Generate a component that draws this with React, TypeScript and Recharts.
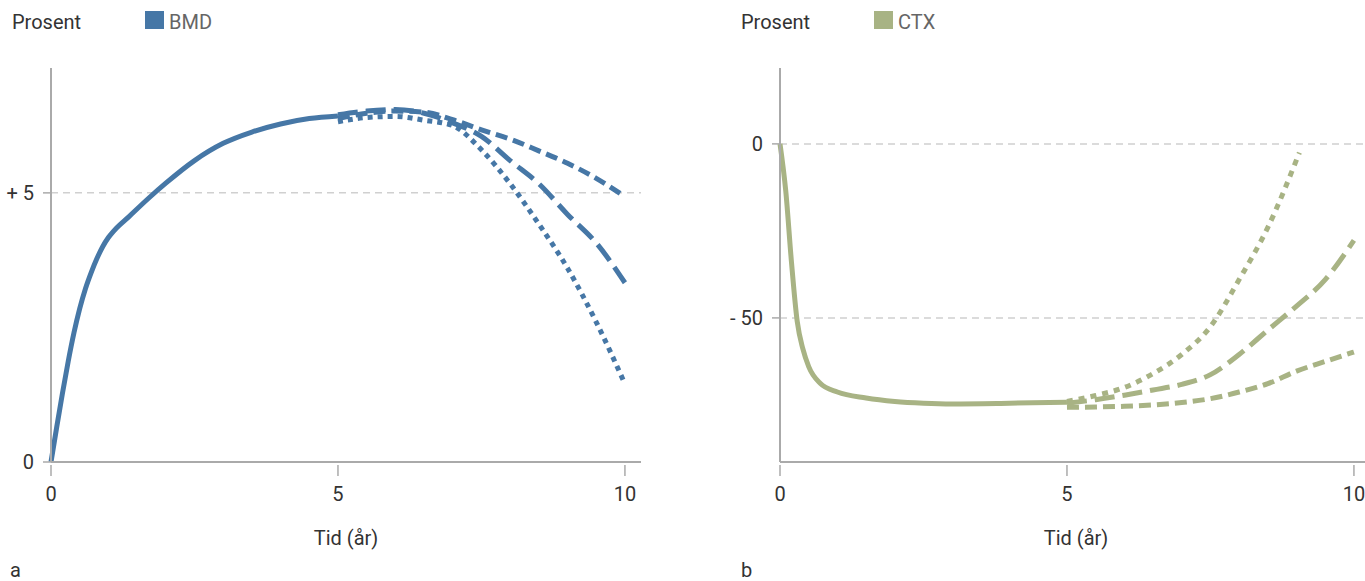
import React from 'react';
import { CartesianGrid, Line, LineChart, XAxis, YAxis } from 'recharts';

// --- BMD (left panel) ---
const bmdYears = [0, 0.1, 0.2, 0.3, 0.4, 0.5, 0.6, 0.7, 0.8, 0.9, 1.0, 1.1, 1.35, 1.7, 2, 2.5, 3, 3.5, 4, 4.5, 5];
const bmdValues = [0, 0.65, 1.28, 1.87, 2.4, 2.85, 3.22, 3.52, 3.78, 4.0, 4.17, 4.3, 4.55, 4.9, 5.18, 5.6, 5.92, 6.13, 6.28, 6.38, 6.43];

const projYears = [5, 5.5, 6, 6.5, 7, 7.5, 8, 8.5, 9, 9.5, 10];
const bmdShortDash = [6.38, 6.48, 6.52, 6.5, 6.36, 6.17, 6.0, 5.78, 5.55, 5.27, 4.93];
const bmdLongDash = [6.45, 6.52, 6.55, 6.48, 6.3, 6.05, 5.6, 5.17, 4.6, 4.07, 3.33];
const bmdDotted = [6.32, 6.4, 6.42, 6.35, 6.25, 5.8, 5.17, 4.42, 3.6, 2.6, 1.45];

// --- CTX (right panel) ---
const ctxYears = [0, 0.1, 0.2, 0.3, 0.4, 0.5, 0.7, 1, 1.5, 2, 2.5, 3, 4, 5];
const ctxValues = [0, -13.5, -34, -51, -59, -64, -68.8, -71.3, -73, -74, -74.5, -74.7, -74.5, -74.2];

const ctxDottedYears = [5, 5.5, 6, 6.5, 7, 7.5, 8, 8.5, 9.05];
const ctxDotted = [-74, -72.3, -70, -66, -60.5, -52.5, -39, -24, -2.5];
const ctxLongDash = [-74.5, -73.5, -72.2, -70.7, -69.1, -66.3, -60.5, -53.5, -46.6, -39, -27.7];
const ctxShortDash = [-75.7, -75.6, -75.4, -75, -74.3, -73.2, -71.3, -68.9, -65.3, -62.5, -59.8];

const xTicks = [0, 5, 10];
const bmdTicks = [0, 5];
const ctxTicks = [-50, 0];
const bmdTickLabels: Record<number, string> = { 0: '0', 5: '+ 5' };
const ctxTickLabels: Record<number, string> = { 0: '0', [-50]: '- 50' };

const zip = (xs: number[], ys: number[]) => xs.map((year, i) => ({ year, value: ys[i] }));

const FONT = "Roboto, 'DejaVu Sans', sans-serif";
const BLUE = '#4677a6';
const GREEN = '#a8b384';
const AXIS = '#aaaaaa';

const XTick = (props: any) => {
  const { x, y, payload } = props;
  return (
    <g>
      <line x1={x} x2={x} y1={y + 3} y2={y + 14} stroke={AXIS} strokeWidth={1.5} />
      <text x={x} y={y + 39} textAnchor="middle" fill="#333" fontSize={20} fontFamily={FONT}>
        {payload.value}
      </text>
    </g>
  );
};

type Series = { data: { year: number; value: number }[]; dash?: string };

const Panel = ({
  color,
  domain,
  ticks,
  labels,
  series,
}: {
  color: string;
  domain: [number, number];
  ticks: number[];
  labels: Record<number, string>;
  series: Series[];
}) => (
  <LineChart width={660} height={581} margin={{ top: 68, right: 19, left: 0, bottom: 0 }}>
    <CartesianGrid vertical={false} syncWithTicks stroke="#d0d0d0" strokeWidth={1.5} strokeDasharray="7 5" />
    <XAxis
      type="number"
      dataKey="year"
      domain={[0, 10.28]}
      ticks={xTicks}
      height={119}
      tickLine={false}
      tickSize={0}
      tickMargin={0}
      axisLine={{ stroke: AXIS, strokeWidth: 2 }}
      tick={<XTick />}
      allowDuplicatedCategory={false}
    />
    <YAxis
      type="number"
      domain={domain}
      ticks={ticks}
      width={51}
      tickSize={8}
      tickMargin={9}
      axisLine={{ stroke: AXIS, strokeWidth: 2 }}
      tickLine={{ stroke: AXIS, strokeWidth: 1.5 }}
      tick={{ fill: '#333', fontSize: 20, fontFamily: FONT }}
      tickFormatter={(v: number) => labels[v] ?? String(v)}
    />
    {series.map((s, i) => (
      <Line
        key={i}
        data={s.data}
        dataKey="value"
        type="monotone"
        stroke={color}
        strokeWidth={5}
        strokeDasharray={s.dash}
        dot={false}
        activeDot={false}
        isAnimationActive={false}
      />
    ))}
  </LineChart>
);

const textStyle: React.CSSProperties = {
  position: 'absolute',
  fontFamily: FONT,
  fontSize: 20,
  lineHeight: '20px',
  color: '#333',
  whiteSpace: 'nowrap',
};

const Header = ({ left, color, name }: { left: number; color: string; name: string }) => (
  <>
    <div style={{ ...textStyle, left: left + 12, top: 12 }}>Prosent</div>
    <div style={{ position: 'absolute', left: left + 145, top: 11, width: 19, height: 18, background: color }} />
    <div style={{ ...textStyle, left: left + 169, top: 12, color: '#666' }}>{name}</div>
  </>
);

export default function App() {
  const bmdSeries: Series[] = [
    { data: zip(projYears, bmdShortDash), dash: '12 6' },
    { data: zip(projYears, bmdLongDash), dash: '20 8' },
    { data: zip(projYears, bmdDotted), dash: '5 5' },
    { data: zip(bmdYears, bmdValues) },
  ];
  const ctxSeries: Series[] = [
    { data: zip(ctxDottedYears, ctxDotted), dash: '6 6' },
    { data: zip(projYears, ctxLongDash), dash: '20 8' },
    { data: zip(projYears, ctxShortDash), dash: '12 6' },
    { data: zip(ctxYears, ctxValues) },
  ];
  return (
    <div
      style={{
        position: 'absolute',
        left: 0,
        top: 0,
        width: 1365,
        height: 581,
        overflow: 'hidden',
        background: '#fff',
      }}
    >
      <div style={{ position: 'absolute', left: 0, top: 0 }}>
        <Panel color={BLUE} domain={[0, 7.32]} ticks={bmdTicks} labels={bmdTickLabels} series={bmdSeries} />
      </div>
      <div style={{ position: 'absolute', left: 729, top: 0 }}>
        <Panel color={GREEN} domain={[-91.4, 21.8]} ticks={ctxTicks} labels={ctxTickLabels} series={ctxSeries} />
      </div>
      <Header left={0} color={BLUE} name="BMD" />
      <Header left={729} color={GREEN} name="CTX" />
      <div style={{ ...textStyle, left: 346, top: 528, transform: 'translateX(-50%)' }}>Tid (år)</div>
      <div style={{ ...textStyle, left: 1076, top: 528, transform: 'translateX(-50%)' }}>Tid (år)</div>
      <div style={{ ...textStyle, left: 10, top: 563, lineHeight: '14px' }}>a</div>
      <div style={{ ...textStyle, left: 741, top: 563, lineHeight: '14px' }}>b</div>
    </div>
  );
}
